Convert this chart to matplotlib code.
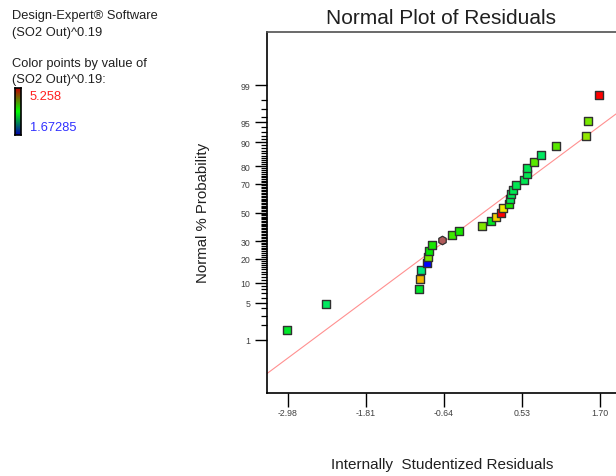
from statistics import NormalDist
import numpy as np
import matplotlib
matplotlib.use("Agg")
import matplotlib.pyplot as plt
from matplotlib.colors import LinearSegmentedColormap

plt.rcParams['font.family'] = ['Liberation Sans', 'DejaVu Sans']

# residuals (sorted) and their normal % probability
residuals = [-3.00, -2.41, -1.015, -0.996, -0.985, -0.891, -0.880, -0.870,
             -0.816, -0.666, -0.525, -0.411, -0.066, 0.069, 0.140, 0.215,
             0.245, 0.339, 0.354, 0.360, 0.395, 0.444, 0.560, 0.605, 0.609,
             0.714, 0.819, 1.044, 1.494, 1.515, 1.685]
prob_pct = [1.6, 4.8, 8.1, 11.3, 14.5, 17.7, 21.0, 24.2, 27.4, 30.6, 33.9,
            37.1, 40.3, 43.5, 46.8, 50.0, 53.2, 56.5, 59.7, 62.9, 66.1, 69.4,
            72.6, 75.8, 79.0, 82.3, 85.5, 88.7, 91.9, 95.2, 98.4]
# (SO2 Out)^0.19 value of each point -> colour
so2_val = [3.30, 3.10, 3.30, 4.55, 3.00, 1.67, 3.90, 3.47, 3.55, 3.50, 3.70,
           3.55, 3.95, 3.35, 4.45, 5.258, 4.35, 3.55, 3.15, 3.15, 3.15, 3.15,
           3.15, 3.15, 3.15, 3.80, 3.10, 3.80, 4.00, 3.90, 5.258]
highlight = 9  # the odd brown hexagon point

vmin, vmax = 1.67285, 5.258
fit_mean, fit_sd = -0.047, 1.105

major_pct = [1, 5, 10, 20, 30, 50, 70, 80, 90, 95, 99]
xticks = [-2.98, -1.81, -0.64, 0.53, 1.70]

nd = NormalDist()
z = [nd.inv_cdf(p / 100) for p in prob_pct]

pt_cmap = LinearSegmentedColormap.from_list(
    "pts", ["#0000ff", "#00e8e8", "#00e800", "#f0e800", "#ff0000"])
bar_cmap = LinearSegmentedColormap.from_list(
    "bar", ["#0000b0", "#00ff00", "#c00000"])

fig = plt.figure(figsize=(6.16, 4.77), dpi=100)
ax = fig.add_axes([267 / 616, 1 - 394 / 477, 351 / 616, 361 / 477])

xlo, xhi = -3.295, 1.97
ax.set_xlim(xlo, xhi)
ax.set_ylim(-3.294, 3.294)

xs = np.array([xlo, xhi])
ax.plot(xs, (xs - fit_mean) / fit_sd, color="#ff9090", lw=0.8, zorder=1)

norm_v = [(v - vmin) / (vmax - vmin) for v in so2_val]
for i, (r, zz, t) in enumerate(zip(residuals, z, norm_v)):
    if i == highlight:
        ax.scatter(r, zz, marker="h", s=38, color="#b05a5a",
                   edgecolor="#303030", linewidth=0.9, zorder=3)
    else:
        ax.scatter(r, zz, marker="s", s=26, color=pt_cmap(t),
                   edgecolor="#303030", linewidth=1.0, zorder=3)

ax.set_yticks([nd.inv_cdf(p / 100) for p in major_pct])
ax.set_yticklabels([str(p) for p in major_pct])
minor = [p for p in range(1, 100) if p not in major_pct]
ax.set_yticks([nd.inv_cdf(p / 100) for p in minor], minor=True)
ax.set_xticks(xticks)
ax.set_xticklabels(["%.2f" % v for v in xticks])

ax.tick_params(axis="y", which="major", length=9, width=1, labelsize=6.3,
               labelcolor="#404040", pad=3)
ax.tick_params(axis="y", which="minor", length=4, width=0.9)
ax.tick_params(axis="x", length=10, width=1, labelsize=6.3,
               labelcolor="#404040", pad=0.5)

ax.spines["right"].set_visible(False)
ax.spines["top"].set_color("#505050")
for s in ["top", "left", "bottom"]:
    ax.spines[s].set_linewidth(1.2)

fig.text(441 / 616, 1 - 18 / 477, "Normal Plot of Residuals", fontsize=15,
         ha="center", va="center", color="#202020")
fig.text(442 / 616, 1 - 465 / 477, "Internally  Studentized Residuals",
         fontsize=11, ha="center", va="center", color="#202020")
fig.text(203 / 616, 1 - 213 / 477, "Normal % Probability", fontsize=10.8,
         ha="center", va="center", rotation=90, color="#202020")

fig.text(12 / 616, 1 - 16 / 477, "Design-Expert\u00ae Software", fontsize=9.3,
         va="center", color="#202020")
fig.text(12 / 616, 1 - 33 / 477, "(SO2 Out)^0.19", fontsize=9.3,
         va="center", color="#202020")
fig.text(12 / 616, 1 - 64 / 477, "Color points by value of", fontsize=9.3,
         va="center", color="#202020")
fig.text(12 / 616, 1 - 80 / 477, "(SO2 Out)^0.19:", fontsize=9.3,
         va="center", color="#202020")
fig.text(30 / 616, 1 - 97 / 477, "%.3f" % vmax, fontsize=9.3, va="center",
         color="#ff2020")
fig.text(30 / 616, 1 - 128 / 477, "%.5f" % vmin, fontsize=9.3, va="center",
         color="#3030ff")

cax = fig.add_axes([15 / 616, 1 - 136 / 477, 6 / 616, 47 / 477])
cax.imshow(np.linspace(1, 0, 100)[:, None], aspect="auto", cmap=bar_cmap)
cax.set_xticks([])
cax.set_yticks([])
for s in cax.spines.values():
    s.set_linewidth(1.2)

fig.savefig("out.png", dpi=100)
